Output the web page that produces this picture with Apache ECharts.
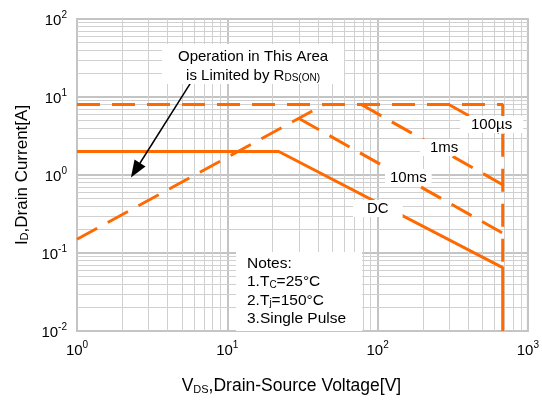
<!DOCTYPE html>
<html>
<head>
<meta charset="utf-8">
<script src="https://cdn.jsdelivr.net/npm/echarts@6/dist/echarts.min.js"></script>
<style>
  html, body { margin: 0; padding: 0; background: #fff; }
  #chart { width: 542px; height: 400px; }
</style>
</head>
<body>
<div id="chart"></div>
<script>
// Safe operating area, log-log
const xDecades = [1, 10, 100, 1000];
const yDecades = [0.01, 0.1, 1, 10, 100];
const minorSteps = [2, 3, 4, 5, 6, 7, 8, 9];

// Curves: [V_DS (V), I_D (A)]
const dcCurve = [[1, 2], [22, 2], [680, 0.065], [680, 0.01]];
const limitCurve = [[1, 8], [680, 8], [680, 0.065]];
const rdsOnCurve = [[1, 0.15], [44, 8]];
const ms10Curve = [[30, 5.3], [680, 0.18]];
const ms1Curve = [[78, 8], [680, 0.75]];
const us100Curve = [[298, 8], [680, 3.3]];

// Arrow pointing into the R_DS(on)-limited region
const arrowFrom = [5.8, 16];
const arrowTo = [2.45, 1.15];

const FONT = "Arial, 'Liberation Sans', sans-serif";
const ORANGE = '#ff6a00';

function minorValues(decades) {
  const out = [];
  for (let i = 0; i < decades.length - 1; i++) {
    minorSteps.forEach(m => out.push(decades[i] * m));
  }
  return out;
}

function powerLabel(v) {
  const e = Math.round(Math.log10(v));
  return '{b|10}{s|' + e + '}';
}

const labelRich = {
  b: { fontFamily: FONT, fontSize: 15, color: '#000', lineHeight: 18, verticalAlign: 'bottom' },
  s: { fontFamily: FONT, fontSize: 10, color: '#000', lineHeight: 18, verticalAlign: 'top' }
};

const dashed = { color: ORANGE, width: 3, type: [23, 12], cap: 'butt' };
const solid = { color: ORANGE, width: 3, type: 'solid', cap: 'butt' };

const chart = echarts.init(document.getElementById('chart'), null, { renderer: 'canvas' });

chart.setOption({
  animation: false,
  backgroundColor: '#fff',
  grid: {
    left: 77, right: 13, top: 19, bottom: 66,
    show: true, borderColor: '#c4c4c4', borderWidth: 2, backgroundColor: 'transparent'
  },
  xAxis: {
    type: 'log', logBase: 10, min: 1, max: 1000,
    axisLine: { show: false }, axisTick: { show: false },
    splitLine: { show: true, lineStyle: { color: '#c4c4c4', width: 2 } },
    axisLabel: { margin: 9, formatter: powerLabel, rich: labelRich },
    name: '{n|V}{sub|DS}{n|,Drain-Source Voltage[V]}{pad|}',
    nameLocation: 'middle', nameGap: 42,
    nameTextStyle: {
      rich: {
        n: { fontFamily: FONT, fontSize: 17.5, color: '#000', lineHeight: 22, verticalAlign: 'bottom' },
        sub: { fontFamily: FONT, fontSize: 11, color: '#000', lineHeight: 22, verticalAlign: 'bottom' },
        pad: { width: 22, lineHeight: 22 }
      }
    }
  },
  yAxis: {
    type: 'log', logBase: 10, min: 0.01, max: 100,
    axisLine: { show: false }, axisTick: { show: false },
    splitLine: { show: true, lineStyle: { color: '#c4c4c4', width: 2 } },
    axisLabel: { margin: 10, formatter: powerLabel, rich: labelRich },
    name: '{n|I}{sub|D}{n|,Drain Current[A]}',
    nameLocation: 'middle', nameGap: 46, nameRotate: 90,
    nameTextStyle: {
      rich: {
        n: { fontFamily: FONT, fontSize: 17, color: '#000', lineHeight: 22, verticalAlign: 'bottom' },
        sub: { fontFamily: FONT, fontSize: 11, color: '#000', lineHeight: 22, verticalAlign: 'bottom' }
      }
    }
  },
  series: [
    {
      // minor grid lines at 2..9 of each decade, kept beneath the curves
      type: 'line', data: [], z: 1, silent: true,
      markLine: {
        z: 1, silent: true, symbol: ['none', 'none'], animation: false,
        label: { show: false },
        lineStyle: { color: '#d0d0d0', width: 1, type: 'solid' },
        emphasis: { disabled: true },
        data: minorValues(xDecades).map(v => ({ xAxis: v }))
          .concat(minorValues(yDecades).map(v => ({ yAxis: v })))
      }
    },
    { name: 'limit', type: 'line', data: limitCurve, symbol: 'none', lineStyle: dashed, z: 3, silent: true },
    { name: 'RDS(on)', type: 'line', data: rdsOnCurve, symbol: 'none', lineStyle: dashed, z: 3, silent: true },
    { name: '10ms', type: 'line', data: ms10Curve, symbol: 'none', lineStyle: dashed, z: 3, silent: true },
    { name: '1ms', type: 'line', data: ms1Curve, symbol: 'none', lineStyle: dashed, z: 3, silent: true },
    { name: '100µs', type: 'line', data: us100Curve, symbol: 'none', lineStyle: dashed, z: 3, silent: true },
    { name: 'DC', type: 'line', data: dcCurve, symbol: 'none', lineStyle: solid, z: 4, silent: true },
    {
      type: 'line', data: [], z: 6, silent: true,
      markLine: {
        z: 6, silent: true, animation: false,
        symbol: ['none', 'triangle'], symbolSize: [13, 17],
        label: { show: false },
        lineStyle: { color: '#000', width: 1.5, type: 'solid' },
        itemStyle: { color: '#000' },
        emphasis: { disabled: true },
        data: [[{ coord: arrowFrom }, { coord: arrowTo }]]
      }
    }
  ],
  graphic: [
    {
      type: 'text', left: 162, top: 44, z: 10,
      style: {
        text: '{t|Operation in This Area}\n{t|is Limited by R}{u|DS(ON)}',
        backgroundColor: '#fff', padding: [1, 16, 1, 16],
        rich: {
          t: { fontFamily: FONT, fontSize: 15, fill: '#000', lineHeight: 19, verticalAlign: 'bottom', align: 'center' },
          u: { fontFamily: FONT, fontSize: 10, fill: '#000', lineHeight: 19, verticalAlign: 'bottom', align: 'center' }
        }
      }
    },
    {
      type: 'text', left: 460, top: 116, z: 10,
      style: { text: '100µs', font: '15px ' + FONT, fill: '#000', backgroundColor: '#fff', padding: [1, 11, 1, 11] }
    },
    {
      type: 'text', left: 420, top: 139, z: 10,
      style: { text: '1ms', font: '15px ' + FONT, fill: '#000', backgroundColor: '#fff', padding: [1, 10, 1, 10] }
    },
    {
      type: 'text', left: 385, top: 169, z: 10,
      style: { text: '10ms', font: '15px ' + FONT, fill: '#000', backgroundColor: '#fff', padding: [1, 5, 1, 5] }
    },
    {
      type: 'text', left: 353, top: 200, z: 10,
      style: { text: 'DC', font: '15px ' + FONT, fill: '#000', backgroundColor: '#fff', padding: [1, 14, 1, 14] }
    },
    {
      type: 'text', left: 236, top: 252, z: 10,
      style: {
        text: '{t|Notes:}\n{t|1.T}{u|C}{t|=25°C}\n{t|2.T}{u|j}{t|=150°C}\n{t|3.Single Pulse}',
        backgroundColor: '#fff', padding: [1, 16, 4, 11],
        rich: {
          t: { fontFamily: FONT, fontSize: 15.5, fill: '#000', lineHeight: 18.5, verticalAlign: 'bottom' },
          u: { fontFamily: FONT, fontSize: 10, fill: '#000', lineHeight: 18.5, verticalAlign: 'bottom' }
        }
      }
    }
  ]
});
</script>
</body>
</html>
